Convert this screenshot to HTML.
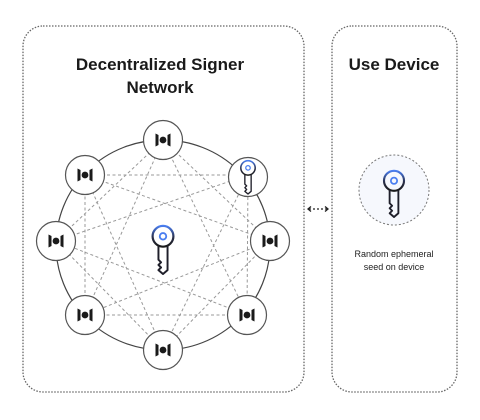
<!DOCTYPE html>
<html><head><meta charset="utf-8"><style>
html,body{margin:0;padding:0;background:#fff;}
svg{display:block;font-family:"Liberation Sans",Arial,sans-serif;}
</style></head><body>
<svg width="480" height="420" viewBox="0 0 480 420" xmlns="http://www.w3.org/2000/svg">
<defs>
<linearGradient id="kg" x1="0" y1="0" x2="0" y2="1">
<stop offset="0" stop-color="#4a7ef0"/><stop offset="0.55" stop-color="#2a2f4a"/><stop offset="1" stop-color="#1a1a1a"/>
</linearGradient>
<g id="key">
<circle cx="0" cy="-9" r="8" fill="none" stroke="url(#kg)" stroke-width="1.7"/>
<circle cx="0" cy="-9" r="2.5" fill="none" stroke="#4a7ef0" stroke-width="1.4"/>
<path d="M-3.5,-1.5 V9 L-1.5,11 L-3.5,13 L-1.5,15 L-3.5,17 L0,20 L3.5,17 V-1.5" fill="none" stroke="#1f1f2a" stroke-width="1.5" stroke-linejoin="round"/>
</g>
<g id="node">
<circle r="19.5" fill="#fff" stroke="#555" stroke-width="1.2"/>
<path d="M-7.5,-6.5 L-4.5,-5 V5 L-7.5,6.5 Z M7.5,-6.5 L4.5,-5 V5 L7.5,6.5 Z" fill="#1a1a1a"/>
<circle r="3.4" fill="#1a1a1a"/>
</g>
</defs>
<rect x="23" y="26" width="281" height="366" rx="20" fill="none" stroke="#666" stroke-width="1.3" stroke-dasharray="1.5 1.5"/>
<rect x="332" y="26" width="125" height="366" rx="20" fill="none" stroke="#666" stroke-width="1.3" stroke-dasharray="1.5 1.5"/>
<text x="160" y="70" font-size="17" font-weight="bold" text-anchor="middle" fill="#1a1a1a">Decentralized Signer</text>
<text x="160" y="93" font-size="17" font-weight="bold" text-anchor="middle" fill="#1a1a1a">Network</text>
<text x="394" y="70" font-size="17" font-weight="bold" text-anchor="middle" fill="#1a1a1a">Use Device</text>
<ellipse cx="163" cy="245" rx="107" ry="105" fill="none" stroke="#444" stroke-width="1.2"/>
<g stroke="#999" stroke-width="1" stroke-dasharray="3 2.5" fill="none">
<path d="M163,140 L270,241 M248,175 L247,315 M270,241 L163,350 M247,315 L85,315 M163,350 L56,241 M85,315 L85,175 M56,241 L163,140 M85,175 L248,175"/>
<path d="M163,140 L247,315 M248,175 L163,350 M270,241 L85,315 M247,315 L56,241 M163,350 L85,175 M85,315 L163,140 M56,241 L248,175 M85,175 L270,241"/>
</g>
<use href="#node" x="163" y="140"/>
<g transform="translate(248,177)"><circle r="19.5" fill="#fff" stroke="#555" stroke-width="1.2"/><use href="#key" transform="translate(0,-1) scale(0.9)"/></g>
<use href="#node" x="270" y="241"/>
<use href="#node" x="247" y="315"/>
<use href="#node" x="163" y="350"/>
<use href="#node" x="85" y="315"/>
<use href="#node" x="56" y="241"/>
<use href="#node" x="85" y="175"/>
<use href="#key" transform="translate(163,248) scale(1.3)"/>
<circle cx="394" cy="190" r="35" fill="#f6f8fd" stroke="#777" stroke-width="1" stroke-dasharray="2 2"/>
<use href="#key" transform="translate(394,192) scale(1.25)"/>
<g stroke="#222" stroke-width="1.3" fill="none">
<line x1="309" y1="209" x2="327" y2="209" stroke-dasharray="2 2"/>
<path d="M311,206.5 L308,209 L311,211.5 M325,206.5 L328,209 L325,211.5"/>
</g>
<text x="394" y="257" font-size="9" text-anchor="middle" fill="#222">Random ephemeral</text>
<text x="394" y="270" font-size="9" text-anchor="middle" fill="#222">seed on device</text>
</svg>
</body></html>
